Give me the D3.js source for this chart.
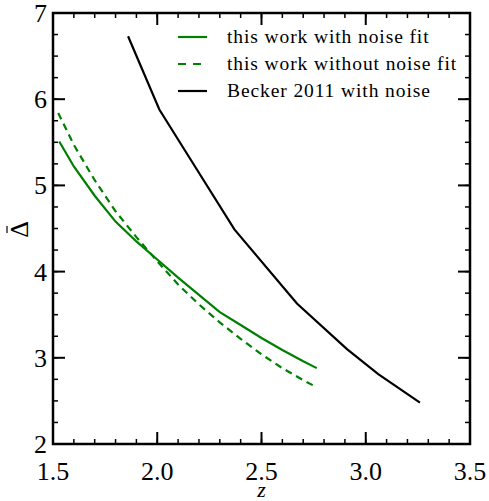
<!DOCTYPE html>
<html>
<head>
<meta charset="utf-8">
<script src="https://cdn.jsdelivr.net/npm/d3@7"></script>
<style>
  html, body { margin: 0; padding: 0; background: #fff; }
  svg { display: block; }
</style>
</head>
<body>
<svg id="chart" width="489" height="501"></svg>
<script>
// data
const xTicks = [1.5, 2.0, 2.5, 3.0, 3.5];
const yTicks = [2, 3, 4, 5, 6, 7];

const withNoiseZ = [1.53, 1.6, 1.7, 1.8, 1.9, 2.0, 2.1, 2.2, 2.3, 2.4, 2.5, 2.6, 2.7, 2.765];
const withNoiseD = [5.51, 5.22, 4.88, 4.58, 4.35, 4.14, 3.93, 3.73, 3.53, 3.38, 3.23, 3.09, 2.96, 2.88];

const withoutNoiseZ = [1.525, 1.6, 1.7, 1.8, 1.9, 2.0, 2.1, 2.2, 2.3, 2.4, 2.5, 2.6, 2.7, 2.76];
const withoutNoiseD = [5.84, 5.47, 5.06, 4.70, 4.40, 4.12, 3.85, 3.62, 3.41, 3.22, 3.04, 2.88, 2.74, 2.665];

const beckerZ = [1.86, 2.01, 2.16, 2.37, 2.67, 2.91, 3.06, 3.26];
const beckerD = [6.73, 5.88, 5.30, 4.49, 3.63, 3.10, 2.81, 2.48];

const legendLabels = ['this work with noise fit', 'this work without noise fit', 'Becker 2011 with noise'];

// layout
const margin = { left: 53, top: 13, right: 19, bottom: 57 };
const W = 489, H = 501;
const svg = d3.select('#chart');
const serif = '"Liberation Serif", "DejaVu Serif", serif';

const x = d3.scaleLinear().domain([1.5, 3.5]).range([margin.left, W - margin.right]);
const y = d3.scaleLinear().domain([2, 7]).range([H - margin.bottom, margin.top]);

const zip = (a, b) => a.map((v, i) => [v, b[i]]);
const line = d3.line().x(d => x(d[0])).y(d => y(d[1]));

const series = [
  { data: zip(withNoiseZ, withNoiseD), color: '#008000', dash: null },
  { data: zip(withoutNoiseZ, withoutNoiseD), color: '#008000', dash: '7,5' },
  { data: zip(beckerZ, beckerD), color: '#000', dash: null }
];

series.forEach(s => {
  svg.append('path')
    .attr('d', line(s.data))
    .attr('fill', 'none')
    .attr('stroke', s.color)
    .attr('stroke-width', 2.2)
    .attr('stroke-dasharray', s.dash);
});

// ticks inward on all four sides
const xMinor = d3.range(15, 36).map(v => v / 10);
const yMinor = d3.range(8, 29).map(v => v / 4);

function tickSet(axis, vals, len, width) {
  vals.forEach(v => {
    if (axis === 'x') {
      const px = x(v);
      svg.append('line').attr('x1', px).attr('x2', px)
        .attr('y1', y.range()[0]).attr('y2', y.range()[0] - len)
        .attr('stroke', '#000').attr('stroke-width', width);
      svg.append('line').attr('x1', px).attr('x2', px)
        .attr('y1', y.range()[1]).attr('y2', y.range()[1] + len)
        .attr('stroke', '#000').attr('stroke-width', width);
    } else {
      const py = y(v);
      svg.append('line').attr('y1', py).attr('y2', py)
        .attr('x1', x.range()[0]).attr('x2', x.range()[0] + len)
        .attr('stroke', '#000').attr('stroke-width', width);
      svg.append('line').attr('y1', py).attr('y2', py)
        .attr('x1', x.range()[1]).attr('x2', x.range()[1] - len)
        .attr('stroke', '#000').attr('stroke-width', width);
    }
  });
}
tickSet('x', xMinor, 5, 1.5);
tickSet('y', yMinor, 5, 1.5);
tickSet('x', xTicks, 12, 2);
tickSet('y', yTicks, 12, 2);

// frame
svg.append('rect')
  .attr('x', x.range()[0]).attr('y', y.range()[1])
  .attr('width', x.range()[1] - x.range()[0])
  .attr('height', y.range()[0] - y.range()[1])
  .attr('fill', 'none').attr('stroke', '#000').attr('stroke-width', 2.5);

// tick labels
svg.append('g').selectAll('text').data(xTicks).enter().append('text')
  .attr('x', d => x(d)).attr('y', 480)
  .attr('text-anchor', 'middle')
  .style('font-family', serif).style('font-size', '26px')
  .text(d => d.toFixed(1));

svg.append('g').selectAll('text').data(yTicks).enter().append('text')
  .attr('x', 47).attr('y', d => y(d) + 9)
  .attr('text-anchor', 'end')
  .style('font-family', serif).style('font-size', '26px')
  .text(d => d);

// axis labels
svg.append('text')
  .attr('x', x(2.5)).attr('y', 497)
  .attr('text-anchor', 'middle')
  .style('font-family', serif).style('font-size', '22px').style('font-style', 'italic')
  .text('z');

// Δ with a bar over it, rotated
const yLab = svg.append('g').attr('transform', 'translate(28, 229.5) rotate(-90)');
yLab.append('text')
  .attr('x', 0).attr('y', 0)
  .attr('text-anchor', 'middle')
  .style('font-family', serif).style('font-size', '26px')
  .text('\u0394');
yLab.append('line')
  .attr('x1', -3.5).attr('x2', 3.5).attr('y1', -21).attr('y2', -21)
  .attr('stroke', '#000').attr('stroke-width', 1.2);

// legend
const legend = svg.append('g');
legendLabels.forEach((lab, i) => {
  const ly = 37 + i * 27;
  legend.append('line')
    .attr('x1', 178).attr('x2', 207).attr('y1', ly).attr('y2', ly)
    .attr('stroke', series[i].color).attr('stroke-width', 2.2)
    .attr('stroke-dasharray', series[i].dash ? '8,7' : null);
  legend.append('text')
    .attr('x', 227).attr('y', ly + 6)
    .style('font-family', serif).style('font-size', '19.5px')
    .style('letter-spacing', '0.9px')
    .text(lab);
});
</script>
</body>
</html>
